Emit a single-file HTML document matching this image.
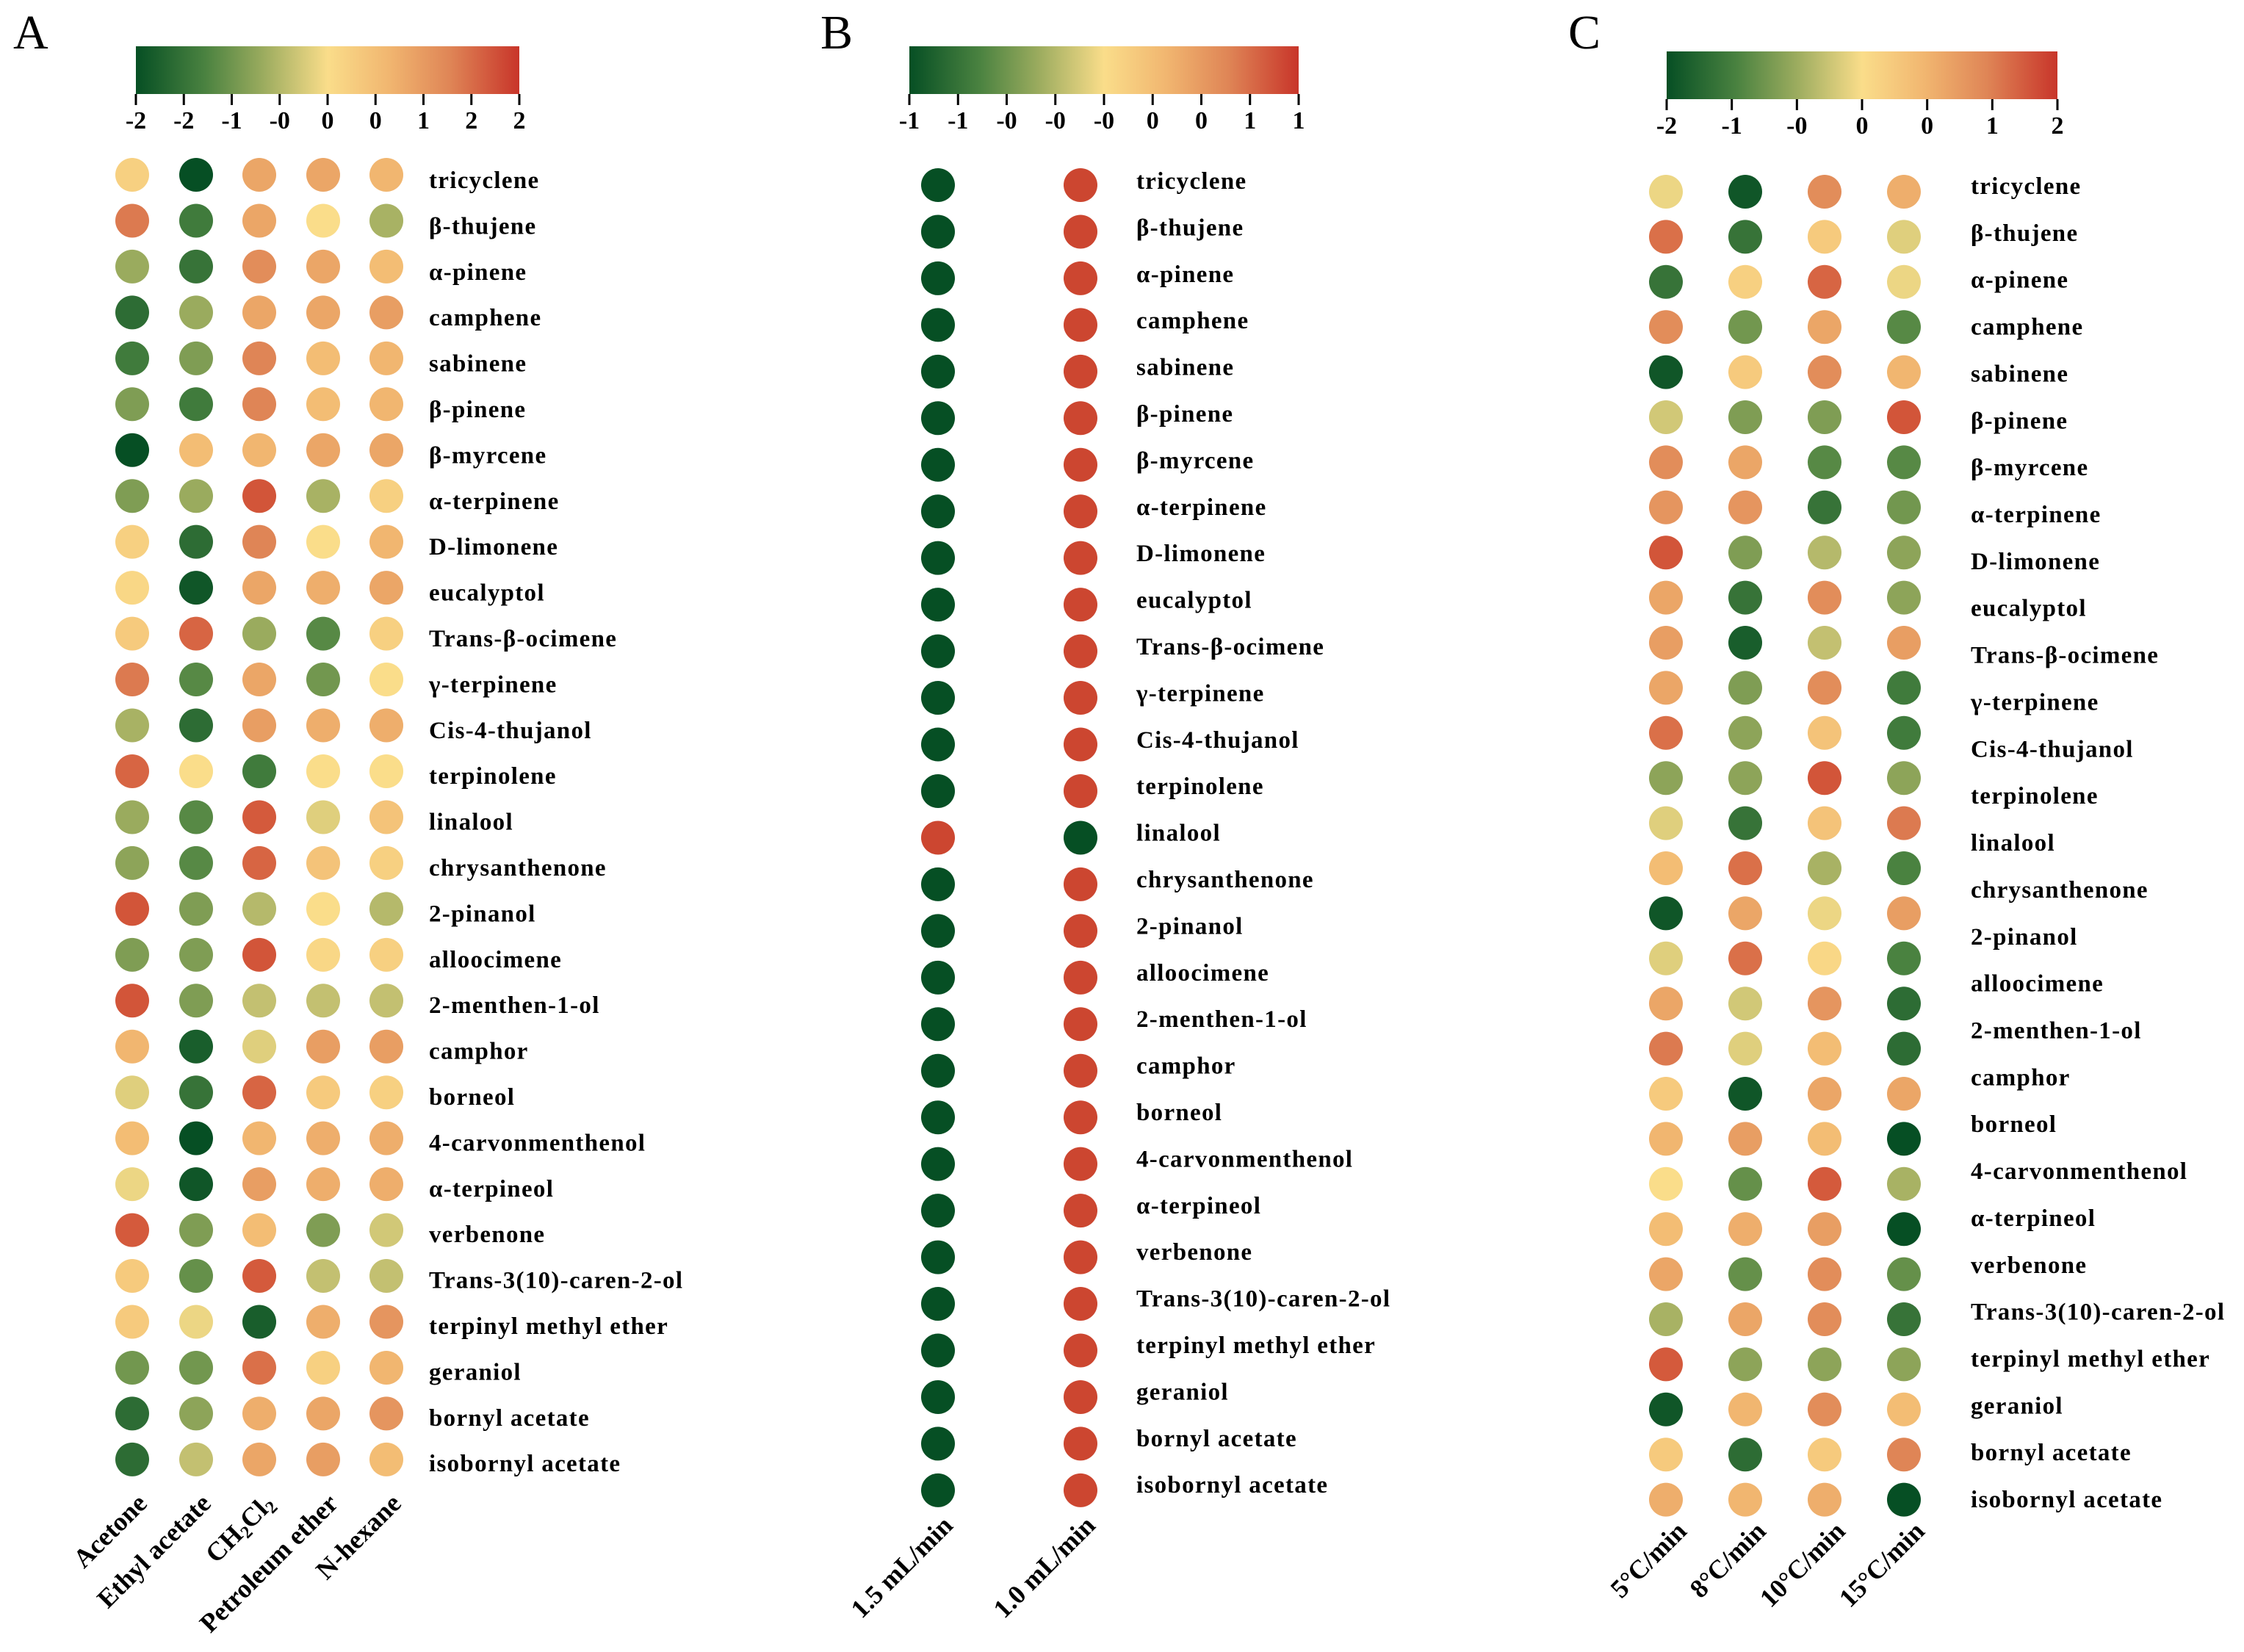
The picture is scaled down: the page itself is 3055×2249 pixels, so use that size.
<!DOCTYPE html>
<html><head><meta charset="utf-8"><style>
html,body{margin:0;padding:0;background:#fff;}
svg{display:block;}
text{font-family:"Liberation Serif",serif;}
</style></head><body>
<svg id="fig" width="3055" height="2249" viewBox="0 0 3055 2249" xmlns="http://www.w3.org/2000/svg">
<defs>
<linearGradient id="cg" x1="0" x2="1" y1="0" y2="0">
<stop offset="0" stop-color="#064f24"/><stop offset="0.18" stop-color="#4a8240"/><stop offset="0.33" stop-color="#9aab5e"/><stop offset="0.5" stop-color="#fadd8a"/><stop offset="0.66" stop-color="#f1b670"/><stop offset="0.82" stop-color="#df8556"/><stop offset="1" stop-color="#c8352a"/>
</linearGradient>
</defs>
</svg>
<script>
const compounds=["tricyclene","β-thujene","α-pinene","camphene","sabinene","β-pinene","β-myrcene","α-terpinene","D-limonene","eucalyptol","Trans-β-ocimene","γ-terpinene","Cis-4-thujanol","terpinolene","linalool","chrysanthenone","2-pinanol","alloocimene","2-menthen-1-ol","camphor","borneol","4-carvonmenthenol","α-terpineol","verbenone","Trans-3(10)-caren-2-ol","terpinyl methyl ether","geraniol","bornyl acetate","isobornyl acetate"];
const solventsA=["Acetone","Ethyl acetate","CH2Cl2","Petroleum ether","N-hexane"];
const valuesA=[
[0.2,-2,0.8,0.8,0.6],[1.3,-1.4,0.8,0.0,-0.6],[-0.7,-1.5,1.1,0.8,0.5],[-1.6,-0.7,0.8,0.8,0.9],[-1.4,-0.9,1.2,0.5,0.6],
[-0.9,-1.4,1.2,0.5,0.6],[-2,0.5,0.6,0.8,0.8],[-0.9,-0.7,1.7,-0.6,0.2],[0.2,-1.6,1.2,0.0,0.6],[0.1,-1.9,0.8,0.7,0.8],
[0.3,1.5,-0.7,-1.2,0.2],[1.3,-1.2,0.8,-1.0,0.0],[-0.6,-1.6,0.9,0.7,0.7],[1.5,0.0,-1.4,0.0,0.0],[-0.7,-1.2,1.6,-0.2,0.4],
[-0.8,-1.2,1.5,0.4,0.2],[1.7,-0.9,-0.5,0.0,-0.5],[-0.9,-0.9,1.7,0.1,0.2],[1.7,-0.9,-0.4,-0.4,-0.4],[0.6,-1.8,-0.2,0.9,0.9],
[-0.2,-1.5,1.5,0.3,0.2],[0.5,-2,0.6,0.7,0.7],[-0.1,-1.9,0.9,0.7,0.7],[1.6,-0.9,0.5,-0.9,-0.3],[0.3,-1.1,1.6,-0.4,-0.4],
[0.3,-0.1,-1.8,0.7,1.0],[-1.0,-1.0,1.4,0.2,0.6],[-1.6,-0.8,0.7,0.8,1.0],[-1.6,-0.4,0.8,0.9,0.5]];
const ticksA=["-2","-2","-1","-0","0","0","1","2","2"];
const flowsB=["1.5 mL/min","1.0 mL/min"];
const valuesB=[[-1,1],[-1,1],[-1,1],[-1,1],[-1,1],[-1,1],[-1,1],[-1,1],[-1,1],[-1,1],[-1,1],[-1,1],[-1,1],[-1,1],[1,-1],[-1,1],[-1,1],[-1,1],[-1,1],[-1,1],[-1,1],[-1,1],[-1,1],[-1,1],[-1,1],[-1,1],[-1,1],[-1,1],[-1,1]];
const ticksB=["-1","-1","-0","-0","-0","0","0","1","1"];
const ratesC=["5°C/min","8°C/min","10°C/min","15°C/min"];
const valuesC=[
[-0.1,-1.9,1.1,0.7],[1.4,-1.5,0.3,-0.2],[-1.5,0.2,1.5,-0.1],[1.1,-1.0,0.8,-1.2],[-1.9,0.3,1.1,0.6],
[-0.3,-0.9,-0.9,1.7],[1.1,0.8,-1.2,-1.2],[1.0,1.0,-1.5,-1.0],[1.7,-0.9,-0.5,-0.8],[0.8,-1.5,1.1,-0.8],
[0.9,-1.8,-0.4,0.9],[0.8,-0.9,1.1,-1.4],[1.4,-0.8,0.4,-1.4],[-0.8,-0.8,1.7,-0.8],[-0.2,-1.5,0.4,1.3],
[0.5,1.4,-0.6,-1.3],[-1.9,0.8,-0.1,0.9],[-0.2,1.4,0.1,-1.3],[0.8,-0.3,1.0,-1.6],[1.3,-0.2,0.5,-1.6],
[0.3,-1.9,0.8,0.8],[0.6,0.9,0.5,-2],[0.0,-1.1,1.6,-0.6],[0.5,0.7,0.9,-2],[0.8,-1.1,1.1,-1.1],
[-0.6,0.8,1.1,-1.5],[1.6,-0.8,-0.8,-0.8],[-1.9,0.6,1.1,0.5],[0.3,-1.6,0.3,1.2],[0.7,0.6,0.7,-2]];
const ticksC=["-2","-1","-0","0","0","1","2"];

const NS="http://www.w3.org/2000/svg";
const svg=document.getElementById("fig");
const stops=[[-2,[6,79,36]],[-1.3,[74,130,64]],[-0.7,[154,171,94]],[0,[250,221,138]],[0.6,[241,182,112]],[1.2,[223,133,86]],[1.6,[212,90,60]],[2,[204,70,48]]];
function colorOf(v,lim){
  let t=v*2/lim; t=Math.max(-2,Math.min(2,t));
  for(let i=0;i<stops.length-1;i++){
    const a=stops[i],b=stops[i+1];
    if(t<=b[0]){const f=(t-a[0])/(b[0]-a[0]);const c=a[1].map((x,k)=>Math.round(x+(b[1][k]-x)*f));return `rgb(${c})`;}
  }
  return "rgb(204,70,48)";
}
function mk(tag,attrs,parent){const e=document.createElementNS(NS,tag);for(const k in attrs)e.setAttribute(k,attrs[k]);(parent||svg).appendChild(e);return e;}

function panel(cfg){
  const g=mk("g",{});
  
  
  const L=mk("text",{x:cfg.letterX,y:66,"font-size":66},g);L.textContent=cfg.letter;
  
  
  const cb=mk("rect",{x:cfg.cbX,y:cfg.cbY,width:cfg.cbW,height:65,fill:"url(#cg)"},g);
  
  
  const n=cfg.ticks.length;
  cfg.ticks.forEach((t,i)=>{
    const x=cfg.cbX+cfg.cbW*i/(n-1);
    const tk=mk("line",{x1:x,x2:x,y1:cfg.cbY+65,y2:cfg.cbY+80,stroke:"#000","stroke-width":3},g);
    
    
    const tx=mk("text",{x:x,y:cfg.cbY+112,"font-size":34,"font-weight":"bold","text-anchor":"middle"},g);
    tx.textContent=t;
    
    
  });
  cfg.values.forEach((row,r)=>{
    const cy=cfg.rowY0+r*cfg.rowStep;
    row.forEach((v,c)=>{
      const ci=mk("circle",{cx:cfg.colX[c],cy:cy,r:23,fill:colorOf(v,cfg.lim)},g);
      
      
    });
  });
  compounds.forEach((s,i)=>{
    const t=mk("text",{x:cfg.labX,y:cfg.labY0+i*cfg.labStep+11,"font-size":33,"font-weight":"bold","letter-spacing":"1.3"},g);
    t.textContent=s;
    
    
  });
  const lastY=cfg.rowY0+(cfg.values.length-1)*cfg.rowStep;
  cfg.cols.forEach((s,c)=>{
    const x=cfg.colX[c]+cfg.cdx, y=lastY+cfg.cdy;
    const t=mk("text",{x:x,y:y,"font-size":36,"font-weight":"bold","text-anchor":"end",transform:`rotate(-45 ${x} ${y})`},g);
    if(s==="CH2Cl2"){t.innerHTML='CH<tspan font-size="24" dy="6">2</tspan><tspan dy="-6">Cl</tspan><tspan font-size="24" dy="6">2</tspan>';}
    else t.textContent=s;
    
    
  });
}
panel({name:"panel-a-solvents",letter:"A",letterX:18,cbX:185,cbY:63,cbW:522,ticks:ticksA,lim:2,values:valuesA,cols:solventsA,
  colX:[180,267,353,440,526],rowY0:238,rowStep:62.46,labX:584,labY0:245,labStep:62.4,cdx:22,cdy:62});
panel({name:"panel-b-flow",letter:"B",letterX:1117,cbX:1238,cbY:63,cbW:530,ticks:ticksB,lim:1,values:valuesB,cols:flowsB,
  colX:[1277,1471],rowY0:252,rowStep:63.46,labX:1547,labY0:246,labStep:63.4,cdx:22,cdy:50});
panel({name:"panel-c-heating-rate",letter:"C",letterX:2135,cbX:2269,cbY:70,cbW:532,ticks:ticksC,lim:2,values:valuesC,cols:ratesC,
  colX:[2268,2376,2484,2592],rowY0:261,rowStep:61.4,labX:2683,labY0:253,labStep:63.86,cdx:30,cdy:45});
</script>
</body></html>
